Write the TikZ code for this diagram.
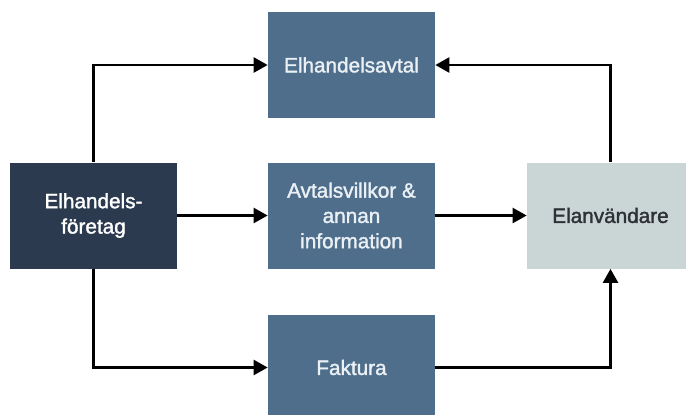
\documentclass[tikz,border=0pt]{standalone}
\usepackage{fontspec}
\setmainfont{Liberation Sans}
\newfontfamily\boxfont[FakeBold=1.6]{Liberation Sans}
\usepackage{tikz}
\usetikzlibrary{arrows.meta}
\definecolor{navy}{HTML}{2C3A4F}
\definecolor{steel}{HTML}{4E6E8C}
\definecolor{mist}{HTML}{CAD5D6}
\definecolor{paletext}{HTML}{EAF0F4}
\definecolor{darktext}{HTML}{2E3135}
\tikzset{
	box/.style={minimum width=3.34cm, minimum height=2.12cm, inner sep=0pt, align=center, font=\boxfont\fontsize{11.8}{14.4}\selectfont},
	flow/.style={line width=1.4pt, -{Triangle[length=2.8mm, width=3mm]}}
}

\begin{document}
\begin{tikzpicture}
		%%%%% START %%%%%
		
		\useasboundingbox (0, 0) rectangle (13.72, -8.28);
		
		\node[box, fill=navy, text=white] (foretag) at (1.87, -4.31) {Elhandels-\\företag};
		\node[box, fill=steel, text=paletext] (avtal) at (7.03, -1.30) {Elhandelsavtal};
		\node[box, fill=steel, text=paletext] (villkor) at (7.03, -4.31) {Avtalsvillkor \&\\annan\\information};
		\node[box, fill=steel, text=paletext] (faktura) at (7.03, -7.35) {Faktura};
		\node[box, fill=mist, text=darktext] (anv) at (12.21, -4.31) {Elanvändare};
		
		\draw[flow] (foretag.north) |- (avtal.west);
		\draw[flow] (foretag.east) -- (villkor.west);
		\draw[flow] (foretag.south) |- (faktura.west);
		
		\draw[flow] (anv.north) |- (avtal.east);
		\draw[flow] (villkor.east) -- (anv.west);
		\draw[flow] (faktura.east) -| (anv.south);
		
		%%%%% END %%%%%
	\end{tikzpicture}
\end{document}
